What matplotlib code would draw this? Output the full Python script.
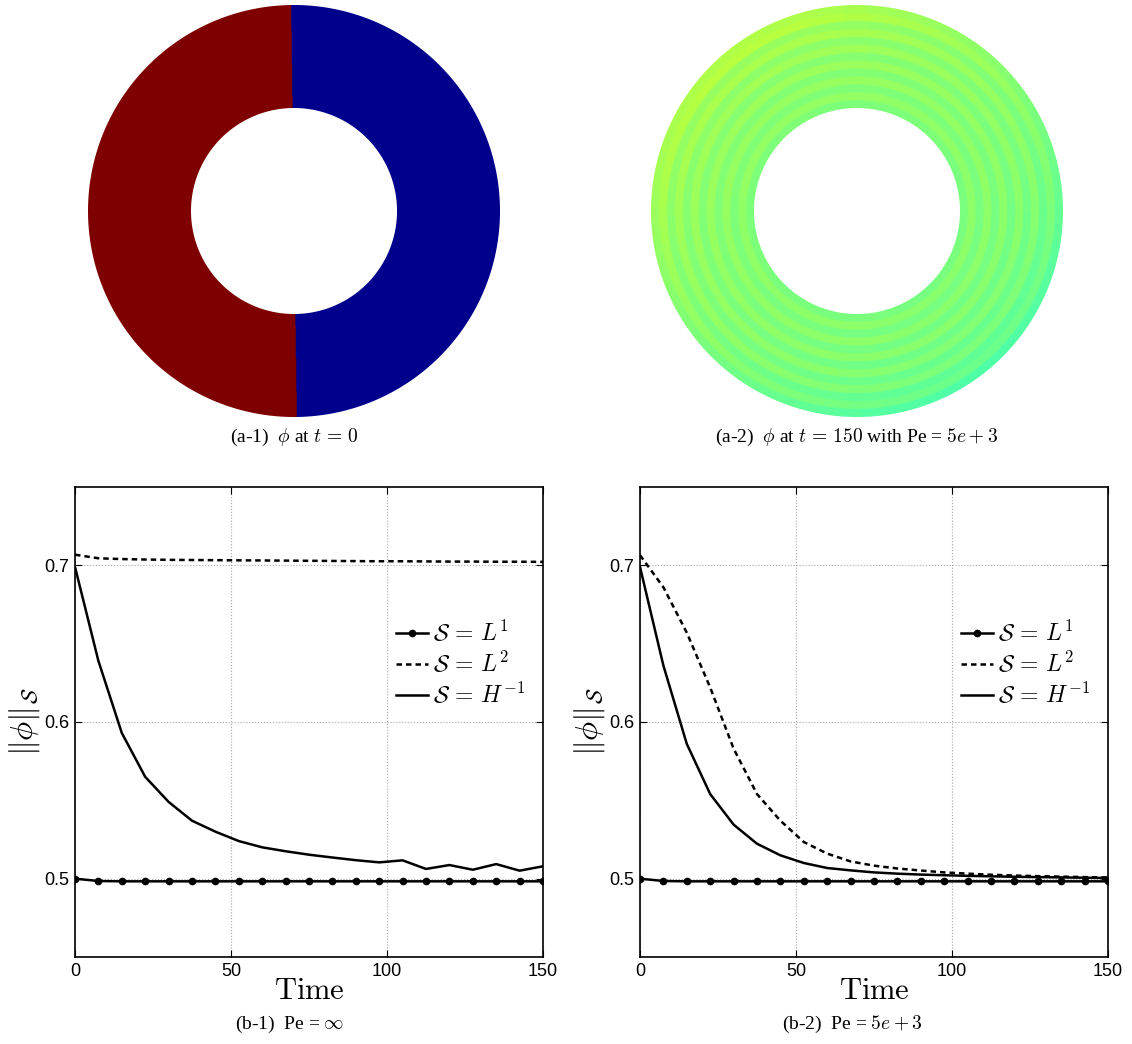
import numpy as np
import matplotlib
matplotlib.use("Agg")
import matplotlib.pyplot as plt
from matplotlib.path import Path
from matplotlib.patches import PathPatch

plt.rcParams['mathtext.fontset'] = 'cm'
plt.rcParams['font.family'] = ['Liberation Serif', 'DejaVu Serif']

# ---------------- data ----------------
time = [0, 7.5, 15, 22.5, 30, 37.5, 45, 52.5, 60, 67.5, 75, 82.5, 90, 97.5,
        105, 112.5, 120, 127.5, 135, 142.5, 150]

# (b-1) Pe = inf
b1_L1 = [0.500, 0.4985, 0.4983, 0.4983, 0.4983, 0.4983, 0.4983, 0.4983, 0.4983, 0.4983, 0.4983,
         0.4983, 0.4983, 0.4983, 0.4983, 0.4983, 0.4983, 0.4983, 0.4983, 0.4983, 0.4983]
b1_L2 = [0.7068, 0.7045, 0.7040, 0.7037, 0.7035, 0.7034, 0.7033, 0.7032, 0.7031, 0.7030, 0.7029,
         0.7028, 0.7027, 0.7026, 0.7026, 0.7025, 0.7024, 0.7024, 0.7023, 0.7023, 0.7022]
b1_H = [0.699, 0.639, 0.593, 0.565, 0.549, 0.537, 0.530, 0.524, 0.520, 0.5175, 0.5153,
        0.5135, 0.5118, 0.5104, 0.5117, 0.5062, 0.5087, 0.5057, 0.5093, 0.5051, 0.5079]

# (b-2) Pe = 5e+3
b2_L1 = [0.500, 0.4985, 0.4983, 0.4983, 0.4983, 0.4983, 0.4983, 0.4983, 0.4983, 0.4983, 0.4983,
         0.4983, 0.4983, 0.4983, 0.4983, 0.4983, 0.4983, 0.4983, 0.4983, 0.4983, 0.4983]
b2_L2 = [0.7065, 0.686, 0.657, 0.622, 0.583, 0.554, 0.537, 0.5234, 0.516, 0.511, 0.5083,
         0.5065, 0.5052, 0.5040, 0.5032, 0.5025, 0.5020, 0.5016, 0.5013, 0.5010, 0.5008]
b2_H = [0.699, 0.636, 0.586, 0.554, 0.5345, 0.5223, 0.5149, 0.510, 0.5068, 0.5053, 0.5040,
        0.5032, 0.5026, 0.5022, 0.5018, 0.5015, 0.5012, 0.5010, 0.5008, 0.5006, 0.5004]

legend_labels = [r'$\mathcal{S}\,=\,L^1$', r'$\mathcal{S}\,=\,L^2$', r'$\mathcal{S}\,=\,H^{-1}$']
xticks = [0, 50, 100, 150]
yticks = [0.5, 0.6, 0.7]

# (a-1): phi = 1 on left half, ~0 on right half; split angle (deg) of the top boundary
a1_split_deg = 90.8
a1_left_value = 1.0
a1_right_value = 0.014

# (a-2): banded field, values per radial band (inner -> outer) and tilt amplitude per band
a2_band_values = [0.500, 0.524, 0.500, 0.527, 0.501, 0.528, 0.500, 0.529, 0.501, 0.530,
                  0.500, 0.528, 0.505]
a2_band_tilt = [0.004, 0.005, 0.006, 0.008, 0.010, 0.012, 0.015, 0.018, 0.022, 0.028,
                0.035, 0.045, 0.058]
a2_tilt_dir_deg = 125.0

captions = [r'(a-1)  $\phi$ at $t\,=\,0$',
            r'(a-2)  $\phi$ at $t\,=\,150$ with Pe = $5e+3$',
            r'(b-1)  Pe = $\infty$',
            r'(b-2)  Pe = $5e+3$']

# ---------------- figure ----------------
W, H = 1132, 1044
fig = plt.figure(figsize=(W / 100, H / 100), dpi=100)


def px_axes(left, top, width, height):
    return fig.add_axes([left / W, 1 - (top + height) / H, width / W, height / H])


r_in, r_out = 0.5, 1.0


def annulus_path(r0, r1, n=720):
    t = np.linspace(0, 2 * np.pi, n)
    outer = np.column_stack([r1 * np.cos(t), r1 * np.sin(t)])
    inner = np.column_stack([r0 * np.cos(t[::-1]), r0 * np.sin(t[::-1])])
    verts = np.vstack([outer, outer[:1], inner, inner[:1]])
    codes = ([Path.MOVETO] + [Path.LINETO] * (n - 1) + [Path.CLOSEPOLY] +
             [Path.MOVETO] + [Path.LINETO] * (n - 1) + [Path.CLOSEPOLY])
    return Path(verts, codes)


N = 900
g = np.linspace(-1, 1, N)
X, Y = np.meshgrid(g, g)
R = np.hypot(X, Y)
ANG = np.degrees(np.arctan2(Y, X)) % 360


def show_field(ax, Z):
    im = ax.imshow(Z, extent=(-1, 1, -1, 1), origin='lower', cmap='jet', vmin=0, vmax=1,
                   interpolation='bilinear')
    patch = PathPatch(annulus_path(r_in, r_out), facecolor='none', edgecolor='none',
                      transform=ax.transData)
    ax.add_patch(patch)
    im.set_clip_path(patch)
    ax.set_xlim(-1, 1); ax.set_ylim(-1, 1); ax.set_aspect('equal'); ax.axis('off')


# (a-1)
ax = px_axes(88, 5, 412, 412)
Z1 = np.where((ANG > a1_split_deg) & (ANG < a1_split_deg + 180), a1_left_value, a1_right_value)
show_field(ax, Z1)

# (a-2)
ax = px_axes(651, 5, 412, 412)
nb = len(a2_band_values)
bidx = np.clip(((R - r_in) / (r_out - r_in) * nb).astype(int), 0, nb - 1)
Z2 = (np.array(a2_band_values)[bidx] +
      np.array(a2_band_tilt)[bidx] * np.cos(np.radians(ANG - a2_tilt_dir_deg)))
show_field(ax, Z2)

fig.text(294 / W, 1 - 437 / H, captions[0], ha='center', va='center', fontsize=14)
fig.text(857 / W, 1 - 437 / H, captions[1], ha='center', va='center', fontsize=14)


def line_panel(left, series_L1, series_L2, series_H):
    ax = px_axes(left, 487, 468, 470)
    ax.plot(time, series_L1, color='black', lw=1.8, marker='o', ms=4.5, label=legend_labels[0])
    ax.plot(time, series_L2, color='black', lw=1.8, linestyle=(0, (2.2, 1.6)), label=legend_labels[1])
    ax.plot(time, series_H, color='black', lw=1.8, label=legend_labels[2])
    ax.set_xlim(0, 150)
    ax.set_ylim(0.45, 0.75)
    ax.set_xticks(xticks)
    ax.set_yticks(yticks)
    ax.set_xticklabels([str(v) for v in xticks], family='Liberation Sans', fontsize=13)
    ax.set_yticklabels([str(v) for v in yticks], family='Liberation Sans', fontsize=13)
    ax.tick_params(direction='in', length=5, width=0.8, top=True, right=True, pad=4)
    ax.grid(True, linestyle=':', color='#a8a8a8', linewidth=0.8)
    for s in ax.spines.values():
        s.set_linewidth(1.2)
    ax.set_xlabel(r'$\mathrm{Time}$', fontsize=22, labelpad=-2)
    ax.set_ylabel(r'$\|\phi\|_{\mathcal{S}}$', fontsize=23, labelpad=2)
    ax.legend(loc='upper left', bbox_to_anchor=(0.665, 0.737), frameon=False,
              fontsize=17, handlelength=1.35, handletextpad=0.25, labelspacing=0.2,
              borderaxespad=0)
    return ax


line_panel(75, b1_L1, b1_L2, b1_H)
line_panel(640, b2_L1, b2_L2, b2_H)

fig.text(290 / W, 1 - 1024 / H, captions[2], ha='center', va='center', fontsize=14)
fig.text(852 / W, 1 - 1024 / H, captions[3], ha='center', va='center', fontsize=14)

fig.savefig('out.png', dpi=100)
